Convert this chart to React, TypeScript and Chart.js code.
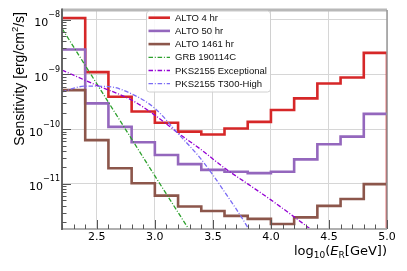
import React, { useEffect, useRef } from 'react';
import { Chart, registerables } from 'chart.js';

Chart.register(...registerables);

// ---------- data ----------
const binEdges = [2.2, 2.4, 2.6, 2.8, 3.0, 3.2, 3.4, 3.6, 3.8, 4.0, 4.2, 4.4, 4.6, 4.8, 5.0];
const alto4hr = [1.07e-8, 1.1e-9, 3.9e-10, 2.1e-10, 1.31e-10, 9.0e-11, 8.0e-11, 1.03e-10, 1.36e-10, 2.23e-10, 3.64e-10, 6.8e-10, 8.8e-10, 2.47e-9];
const alto50hr = [2.85e-9, 2.95e-10, 1.1e-10, 5.75e-11, 3.38e-11, 2.3e-11, 1.8e-11, 1.67e-11, 1.57e-11, 1.67e-11, 2.8e-11, 5.3e-11, 7.3e-11, 1.9e-10];
const alto1461hr = [5.15e-10, 6.3e-11, 1.93e-11, 1.03e-11, 6.1e-12, 3.86e-12, 3.2e-12, 2.6e-12, 2.3e-12, 1.85e-12, 2.45e-12, 3.97e-12, 5.3e-12, 9.9e-12];

const grbX = [2.2, 2.6, 3.0, 3.3];
const grbY = [6.9e-9, 3.1e-10, 1.4e-11, 1.4e-12];

const pksExcX = [2.2, 2.5, 2.8, 3.0, 3.2, 3.4, 3.6, 3.8, 4.0, 4.2, 4.4];
const pksExcY = [1.2e-9, 6.3e-10, 3.4e-10, 1.8e-10, 8.5e-11, 4.2e-11, 1.95e-11, 1.0e-11, 5.1e-12, 2.5e-12, 1.2e-12];

const pksHighX = [2.2, 2.4, 2.6, 2.8, 3.0, 3.2, 3.4, 3.6, 3.8, 3.85];
const pksHighY = [4.8e-10, 6.1e-10, 6.0e-10, 4.4e-10, 2.4e-10, 8.3e-11, 2.8e-11, 7.2e-12, 1.6e-12, 1.0e-12];

const seriesLabels = ['ALTO 4 hr', 'ALTO 50 hr', 'ALTO 1461 hr', 'GRB 190114C', 'PKS2155 Exceptional', 'PKS2155 T300-High'];

const xMajorTicks = [2.5, 3.0, 3.5, 4.0, 4.5, 5.0];
const yDecades = [1e-11, 1e-10, 1e-9, 1e-8];
const yExponents = ['−11', '−10', '−9', '−8'];
const xMin = 2.2;
const xMax = 5.0;
const yMin = 1.5e-12;
const yMax = 1.5e-8;

// ---------- helpers ----------
function stepPoints(vals: number[], drop: boolean) {
  const pts = vals.map((v, i) => ({ x: binEdges[i], y: v }));
  pts.push({ x: binEdges[binEdges.length - 1], y: vals[vals.length - 1] });
  if (drop) pts.push({ x: binEdges[binEdges.length - 1], y: yMin / 10 });
  return pts;
}
function linePoints(xs: number[], ys: number[]) {
  return xs.map((x, i) => ({ x, y: ys[i] }));
}

const COLORS = ['#d62728', '#9467bd', '#8c564b', '#2ca02c', '#9400d3', '#7b6cf4'];
const DASHDOT = [4.5, 1.8, 1, 1.8];
const SANS = '"Liberation Sans", Arial, sans-serif';
const DJV = '"DejaVu Sans", sans-serif';

const customPlugin = {
  id: 'customDecor',
  afterDraw(chart: any) {
    const ctx: CanvasRenderingContext2D = chart.ctx;
    const { left, right, top, bottom } = chart.chartArea;
    const xs = chart.scales.x;
    const ys = chart.scales.y;
    ctx.save();

    // spines
    ctx.lineCap = 'butt';
    ctx.strokeStyle = '#b8b8b8';
    ctx.lineWidth = 3;
    ctx.beginPath(); ctx.moveTo(left, top); ctx.lineTo(right, top); ctx.stroke();
    ctx.strokeStyle = '#b0b0b0';
    ctx.lineWidth = 2;
    ctx.beginPath(); ctx.moveTo(left, bottom); ctx.lineTo(right, bottom); ctx.stroke();
    ctx.strokeStyle = '#999';
    ctx.lineWidth = 1.5;
    ctx.beginPath(); ctx.moveTo(right, top); ctx.lineTo(right, bottom); ctx.stroke();
    ctx.strokeStyle = '#666';
    ctx.lineWidth = 2;
    ctx.beginPath(); ctx.moveTo(left, top - 1.5); ctx.lineTo(left, bottom + 1); ctx.stroke();

    // ticks (inward)
    ctx.strokeStyle = '#555';
    ctx.lineWidth = 1;
    for (let k = 22; k <= 50; k++) {
      const v = k / 10;
      const px = Math.round(xs.getPixelForValue(v)) + 0.5;
      const major = k % 5 === 0;
      const len = major ? 9 : 4.5;
      ctx.beginPath(); ctx.moveTo(px, bottom); ctx.lineTo(px, bottom - len); ctx.stroke();
    }
    for (let e = -12; e <= -8; e++) {
      for (let m = 1; m <= 9; m++) {
        const v = m * Math.pow(10, e);
        if (v < yMin || v > yMax) continue;
        const py = Math.round(ys.getPixelForValue(v)) + 0.5;
        const len = m === 1 ? 9 : 4.5;
        ctx.beginPath(); ctx.moveTo(left, py); ctx.lineTo(left + len, py); ctx.stroke();
      }
    }

    // y tick labels 10^n
    ctx.fillStyle = '#000';
    ctx.textBaseline = 'alphabetic';
    yDecades.forEach((v, i) => {
      const py = ys.getPixelForValue(v);
      ctx.font = `8px ${DJV}`;
      const sup = yExponents[i];
      const sw = ctx.measureText(sup).width;
      const rx = left - 2;
      ctx.textAlign = 'left';
      ctx.fillText(sup, rx - sw, py - 2.5);
      ctx.font = `11px ${DJV}`;
      ctx.textAlign = 'right';
      ctx.fillText('10', rx - sw, py + 6.5);
    });

    // x title: log10(E_R[GeV])
    {
      const parts: { t: string; font: string; dy: number }[] = [
        { t: 'log', font: `13px ${DJV}`, dy: 0 },
        { t: '10', font: `9px ${DJV}`, dy: 3 },
        { t: '(', font: `13px ${DJV}`, dy: 0 },
        { t: 'E', font: `oblique 13px ${DJV}`, dy: 0 },
        { t: 'R', font: `9px ${DJV}`, dy: 3 },
        { t: '[GeV])', font: `13px ${DJV}`, dy: 0 },
      ];
      let total = 0;
      const widths = parts.map((p) => { ctx.font = p.font; const w = ctx.measureText(p.t).width; total += w; return w; });
      let x = right - total;
      const base = 255;
      ctx.textAlign = 'left';
      parts.forEach((p, i) => {
        ctx.font = p.font;
        ctx.fillText(p.t, x, base + p.dy);
        x += widths[i];
      });
    }

    // y title (rotated, top aligned)
    {
      ctx.save();
      ctx.translate(23.5, top + 2);
      ctx.rotate(-Math.PI / 2);
      const parts: { t: string; font: string; dy: number }[] = [
        { t: 'Sensitivity [erg/cm', font: `14px ${SANS}`, dy: 0 },
        { t: '2', font: `9.5px ${SANS}`, dy: -5.5 },
        { t: '/s]', font: `14px ${SANS}`, dy: 0 },
      ];
      let total = 0;
      const widths = parts.map((p) => { ctx.font = p.font; const w = ctx.measureText(p.t).width; total += w; return w; });
      let x = -total;
      ctx.textAlign = 'left';
      parts.forEach((p, i) => {
        ctx.font = p.font;
        ctx.fillText(p.t, x, p.dy);
        x += widths[i];
      });
      ctx.restore();
    }

    // legend
    {
      const bx = 146.5, by = 11, bw = 124, bh = 81;
      ctx.fillStyle = 'rgba(255,255,255,0.85)';
      ctx.strokeStyle = '#d0d0d0';
      ctx.lineWidth = 1;
      ctx.beginPath();
      (ctx as any).roundRect ? (ctx as any).roundRect(bx, by, bw, bh, 3) : ctx.rect(bx, by, bw, bh);
      ctx.fill();
      ctx.stroke();
      const ds = chart.data.datasets;
      ds.forEach((d: any, i: number) => {
        const cy = 17.7 + i * 13.2;
        ctx.save();
        ctx.strokeStyle = d.borderColor;
        ctx.lineWidth = i < 3 ? 2.6 : 1.3;
        ctx.setLineDash(d.borderDash || []);
        ctx.beginPath(); ctx.moveTo(148.5, cy); ctx.lineTo(170, cy); ctx.stroke();
        ctx.restore();
        ctx.fillStyle = '#111';
        ctx.font = `9.5px ${SANS}`;
        ctx.textAlign = 'left';
        ctx.textBaseline = 'middle';
        ctx.fillText(d.label, 175, cy + 0.5);
      });
    }

    ctx.restore();
  },
};

export default function App() {
  const ref = useRef<HTMLCanvasElement | null>(null);
  useEffect(() => {
    if (!ref.current) return;
    const stepStyle = (i: number) => ({
      label: seriesLabels[i],
      borderColor: COLORS[i],
      backgroundColor: COLORS[i],
      borderWidth: 2.6,
      stepped: true as const,
      pointRadius: 0,
      fill: false,
      order: 10 - i,
    });
    const curveStyle = (i: number) => ({
      label: seriesLabels[i],
      borderColor: COLORS[i],
      backgroundColor: COLORS[i],
      borderWidth: 1.3,
      borderDash: DASHDOT,
      pointRadius: 0,
      fill: false,
      cubicInterpolationMode: 'monotone' as const,
      order: 10 - i,
    });
    const chart = new Chart(ref.current, {
      type: 'line',
      data: {
        datasets: [
          { ...stepStyle(0), data: stepPoints(alto4hr, true) },
          { ...stepStyle(1), data: stepPoints(alto50hr, false) },
          { ...stepStyle(2), data: stepPoints(alto1461hr, false) },
          { ...curveStyle(3), data: linePoints(grbX, grbY), cubicInterpolationMode: 'default' as const },
          { ...curveStyle(4), data: linePoints(pksExcX, pksExcY) },
          { ...curveStyle(5), data: linePoints(pksHighX, pksHighY) },
        ],
      },
      options: {
        animation: false,
        responsive: false,
        devicePixelRatio: 1,
        layout: { padding: { left: 0, right: 20, top: 10, bottom: 0 } },
        plugins: {
          legend: { display: false },
          tooltip: { enabled: false },
        },
        events: [],
        scales: {
          x: {
            type: 'linear',
            min: xMin,
            max: xMax,
            afterBuildTicks: (s: any) => { s.ticks = xMajorTicks.map((v) => ({ value: v })); },
            afterFit: (s: any) => { s.height = 42; },
            ticks: {
              font: { family: 'DejaVu Sans', size: 11 },
              color: '#000',
              padding: 2,
              maxRotation: 0,
              autoSkip: false,
              callback: (v: any) => Number(v).toFixed(1),
            },
            grid: { color: '#d6d6d6', lineWidth: 1, drawTicks: false },
            border: { display: false },
          },
          y: {
            type: 'logarithmic',
            min: yMin,
            max: yMax,
            afterBuildTicks: (s: any) => { s.ticks = yDecades.map((v) => ({ value: v, major: true })); },
            afterFit: (s: any) => { s.width = 62; },
            ticks: { display: false },
            grid: { color: '#d6d6d6', lineWidth: 1, drawTicks: false },
            border: { display: false },
          },
        },
      },
      plugins: [customPlugin],
    } as any);
    return () => chart.destroy();
  }, []);
  return (
    <div style={{ position: 'fixed', left: 0, top: 0, width: 407, height: 271, background: '#fff' }}>
      <canvas ref={ref} width={407} height={271} style={{ display: 'block', width: 407, height: 271 }} />
    </div>
  );
}
